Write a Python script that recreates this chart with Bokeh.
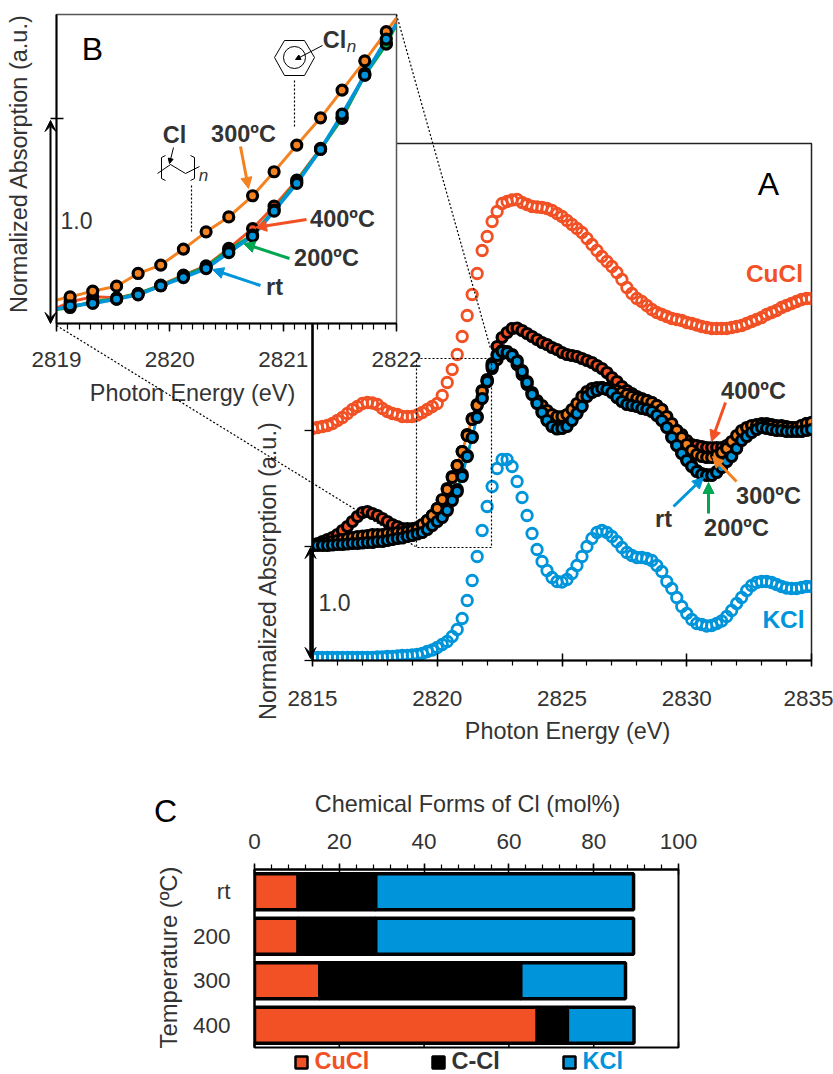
import numpy as np
from bokeh.plotting import figure
from bokeh.models import (Range1d, FactorRange, LinearAxis, CategoricalAxis, FixedTicker, Arrow,
                          NormalHead, VeeHead, ColumnDataSource)
from bokeh.core.properties import value
from bokeh.embed import file_html
from bokeh.resources import INLINE

# ---------------- panel A: heights above baseline (112 units = 1.0 normalized absorption)
cucl = [230,231,232,233,235,238,241,245,249,252,255,256,255.5,254,250,247,245,244,242,242,242,243.5,246,249,252,255,263,276,289,304,322,343,364,385,408,422,437,447,455,457,458.5,459,456,454,452,451.5,451,450,448,445,442,438,434,430,426,420,414,408,402,397,392,386,379,371,365,360,357,353,349,346,344,342,340,339,338,336,335,333.5,332,331,330,330,330,330,331,332,333,335,337,339,341,344,346,348,351,353,355,357,359,360,360]
kcl = [1,1,1,1,1,1,1,1,1,1,1,1,1,1.5,1.5,2,2,2.5,3,3,3.5,4,5,7,8.5,11,14,17,22,29,40,58,78,102,128,152,172,190,199,199,192,177,161,143,125,109,97,88,81,77,76.5,79,85,93,102,112,120,126,128,126,122,117,111,106,103,101,101,100,98,93,87,77,70,61,52,45,39,35,34,32.5,33,35,37.5,42,48,55,61,68,73,76,77,77,76,74,72,70.5,70,70,71,72,72]
a400 = [114,115,117,119,121,124,128,132,137,142,146,147,145,143,140,137,134,132,130,130,130,131,133,138,143,150,158,170,182,193,207,224,240,254,268,279,295,312,321,326,330,330.5,328,325,322,319,316,314,311,309,306,304,303,302,300,298,296,293,290,286,281,277,272,268,265,262,260,258,256,253,249,241,233,228,224,218,214,213,212,211,211,211,211,213,216,220,225,229,232,234,235,235,234,233,233,232,231,231,233,235,236]
a300 = [113,114,115,116,117,118,119,120,121,122,122.5,123,124,124,124,125,125,126,126,127,128,130,134,138,143,150,159,169,181,193,207,223,239,253,267,277,290,299,305,306,302,294,284,274,266,258,253,248,244,242,242,244,249,255,262,267,270,271,271,270,269,268,266,264,262,260,259,258,256,253,249,242,235,228,221,214,208,204,202,201,201,203,206,210,217,223,228,231,233,233.5,234,233,233,232,232,231,231,231,233,235,236]
a200 = [114,114,114,114,114.5,115,115,115.5,116,116,116.5,117,117,118,118,119,120,121,121.5,123,124,125.5,127,130,134,138,143,150,160,169,184,203,222,242,261,278,293,304,308,307,304,298,288,277,265,256,247,239,233,230.5,231,233,239,246,253,263,267,269,271,270,267,262,258,255,254,253,251,250,248,244,239,232,222,214,206,199,193,188,185,184,184,187,192,198,203,211,219,223,227,230,232,231,230,229,229,228,228,228,228,229,230]
art = [113,113,113,113,113.5,114,114,114.5,115,115,115.5,116,116,117,117,118,119,120,120.5,122,123,124.5,126,129,133,137,141,148,158,167,182,202,221,241,260,277,292,303,307,306,303,297,287,276,264,255,246,238,232,229.5,230,232,238,245,252,262,266,268,270,269,266,261,257,254,253,252,250,249,247,243,238,231,221,213,205,198,192,187,184,183,183,186,191,197,202,210,218,222,226,229,231,230,229,228,228,227,227,227,227,228,229]
lens = [len(s) for s in (cucl, kcl, a400, a300, a200, art)]
assert set(lens) == {101}, str(lens)
energy_a = [2815 + 0.2 * i for i in range(101)]

# ---------------- panel B: normalized absorption, inset
energy_b = [2819.12,2819.32,2819.53,2819.72,2819.92,2820.12,2820.32,2820.52,2820.73,2820.92,2821.12,2821.33,2821.52,2821.72,2821.91]
b300 = [.130,.158,.182,.244,.285,.363,.447,.520,.623,.740,.870,1.003,1.138,1.281,1.423]
b400 = [.106,.130,.125,.146,.187,.236,.281,.366,.463,.572,.699,.854,1.000,1.220,1.366]
b200 = [.078,.106,.119,.146,.184,.231,.276,.358,.431,.553,.691,.850,1.005,1.211,1.363]
brt = [.086,.098,.119,.140,.184,.224,.268,.346,.426,.548,.683,.849,1.021,1.211,1.387]
line_x = [2819.0] + energy_b + [2822.0]
b300_line = [.115] + b300 + [1.49]
b400_line = [.075] + b400 + [1.47]
b200_line = [.070] + b200 + [1.46]
brt_line = [.070] + brt + [1.46]

# ---------------- panel C
temps = ["rt", "200", "300", "400"]
c_cucl = [10.3, 10.3, 15.4, 66.7]
c_ccl = [18.3, 18.3, 47.4, 7.1]
c_kcl = [60.8, 60.8, 24.7, 15.7]
c_ticks = [0, 20, 40, 60, 80, 100]

RED, ORANGE, BLUE, GREEN = "#f15124", "#f58220", "#0095da", "#00a651"
INK = "#333333"
FONT = "Liberation Sans"
W, H = 833, 1074


def panel(left, top, fw, fh, x_range, y_range):
    p = figure(width=W, height=H, min_border_left=left, min_border_top=top,
               min_border_right=W - left - fw, min_border_bottom=H - top - fh,
               x_range=x_range, y_range=y_range, x_axis_type=None, y_axis_type=None,
               output_backend="svg", toolbar_location=None, border_fill_color=None,
               styles={"position": "absolute", "left": "0px", "top": "0px"})
    p.grid.visible = False
    return p


def style_axis(ax, size="22.5px"):
    ax.major_label_text_font = FONT
    ax.major_label_text_font_size = size
    ax.major_label_text_color = INK
    ax.axis_line_color = "black"
    ax.major_tick_line_color = "black"
    ax.minor_tick_line_color = "black"
    ax.axis_line_width = 2
    ax.major_tick_line_width = 1.5
    ax.minor_tick_line_width = 1.2


# ---------- A
pa = panel(312, 143, 499, 517, Range1d(2815, 2835), Range1d(-2, 515))
pa.background_fill_color = None
pa.outline_line_color = "#222222"
pa.outline_line_width = 1.5
xa = LinearAxis(ticker=FixedTicker(ticks=[2815, 2820, 2825, 2830, 2835],
                                   minor_ticks=list(range(2815, 2836))))
style_axis(xa)
xa.major_tick_in, xa.major_tick_out, xa.minor_tick_in, xa.minor_tick_out = 7, 6, 0, 5
xa.major_label_standoff = 24
pa.add_layout(xa, "below")
ya = LinearAxis(ticker=FixedTicker(ticks=[]))
style_axis(ya)
ya.axis_line_width = 2.5
pa.add_layout(ya, "left")
pa.scatter(energy_a, cucl, size=10.5, fill_color=None, line_color=RED, line_width=2.8)
pa.scatter(energy_a, kcl, size=10.5, fill_color=None, line_color=BLUE, line_width=2.8)
for s, c in ((a400, RED), (a200, GREEN), (a300, ORANGE), (art, BLUE)):
    pa.line(energy_a, s, line_color=c, line_width=2.5)
for s, c in ((a400, RED), (a200, GREEN), (a300, ORANGE), (art, BLUE)):
    pa.scatter(energy_a, s, size=10, fill_color=c, line_color="black", line_width=3.2)

# ---------- B
pb = panel(56, 14, 340, 309, Range1d(2819, 2822), Range1d(0, 1.507))
pb.background_fill_color = "white"
pb.outline_line_color = "#555555"
pb.outline_line_width = 1.5
xb = LinearAxis(ticker=FixedTicker(ticks=[2819, 2820, 2821, 2822],
                                   minor_ticks=[2819 + i / 10 for i in range(31)]))
style_axis(xb)
xb.major_tick_in, xb.major_tick_out, xb.minor_tick_in, xb.minor_tick_out = 0, 8, 0, 6
xb.major_label_standoff = 20
pb.add_layout(xb, "below")
yb = LinearAxis(ticker=FixedTicker(ticks=[]))
style_axis(yb)
pb.add_layout(yb, "left")
for s, c, w in ((b400_line, RED, 3), (b200_line, GREEN, 3.5), (b300_line, ORANGE, 3), (brt_line, BLUE, 3.5)):
    pb.line(line_x, s, line_color=c, line_width=w)
for s, c in ((b400, RED), (b200, GREEN), (b300, ORANGE), (brt, BLUE)):
    pb.scatter(energy_b, s, size=10, fill_color=c, line_color="black", line_width=3.2)

# ---------- C
pc = panel(254, 869, 424, 178, Range1d(0, 100), FactorRange(factors=temps[::-1]))
pc.background_fill_color = None
pc.outline_line_color = "black"
pc.outline_line_width = 2
src = ColumnDataSource(dict(t=temps, a=c_cucl, b=c_ccl, c=c_kcl))
pc.hbar_stack(["a", "b", "c"], y="t", source=src, height=0.81, fill_color=[RED, "black", BLUE],
              line_color="black", line_width=3.5)
xc = LinearAxis(ticker=FixedTicker(ticks=c_ticks, minor_ticks=list(range(0, 101, 4))))
style_axis(xc)
xc.major_tick_in, xc.major_tick_out, xc.minor_tick_in, xc.minor_tick_out = 5, 6, 0, 5
xc.major_label_standoff = 15
pc.add_layout(xc, "above")
yc = CategoricalAxis()
style_axis(yc)
yc.major_tick_line_color = None
yc.major_label_standoff = 18
pc.add_layout(yc, "left")

# ---------- overlay of labels and annotation marks, in page pixels
ov = panel(0, 0, W, H, Range1d(0, W), Range1d(H, 0))
ov.background_fill_color = None
ov.outline_line_color = None


def label(x, y, t, size=22.5, color=INK, bold=False, italic=False, angle=0, align="center"):
    style = "bold" if bold else ("italic" if italic else "normal")
    ov.text([x], [y], text=[t], text_font=value(FONT), text_font_size=f"{size}px", text_color=color,
            text_font_style=style, angle=angle, text_align=align, text_baseline="middle")


def arrow(x0, y0, x1, y1, color, w=3, head=11):
    ov.add_layout(Arrow(end=NormalHead(size=head, fill_color=color, line_color=color),
                        x_start=x0, y_start=y0, x_end=x1, y_end=y1, line_color=color, line_width=w))


def dbl(x, y0, y1, w=2):
    ov.add_layout(Arrow(start=VeeHead(size=11, fill_color="black", line_color="black"),
                        end=VeeHead(size=11, fill_color="black", line_color="black"),
                        x_start=x, y_start=y0, x_end=x, y_end=y1, line_color="black", line_width=w))


def dotted(xs, ys):
    ov.line(xs, ys, line_color="black", line_width=1.2, line_dash="2 2")


# titles
label(567, 730, "Photon Energy (eV)", 23.4)
label(192, 392, "Photon Energy (eV)", 23.4)
label(267, 570, "Normalized Absorption (a.u.)", 23.5, angle=np.pi / 2)
label(18, 163, "Normalized Absorption (a.u.)", 23.5, angle=np.pi / 2)
label(467, 803, "Chemical Forms of Cl (mol%)", 23.4)
label(168, 957, "Temperature (ºC)", 23.8, angle=np.pi / 2)
label(768, 183, "A", 32, "black")
label(92, 48, "B", 32, "black")
label(165, 810, "C", 32, "black")
label(334, 602, "1.0", 23)
label(76, 220, "1.0", 23)

# panel A annotations
label(774, 273, "CuCl", 24.5, RED, True)
label(783, 619, "KCl", 24.5, BLUE, True)
label(753, 390, "400ºC", 23.5, INK, True)
label(768, 495, "300ºC", 23.5, INK, True)
label(736, 527, "200ºC", 23.5, INK, True)
label(663, 518, "rt", 23.5, INK, True)
arrow(725, 402, 711, 441, RED)
arrow(736, 481, 712, 456, ORANGE)
arrow(708, 513, 708, 482, GREEN)
arrow(673, 506, 703, 477, BLUE)
dbl(310, 547, 658, 2.5)
ov.segment([304, 304, 304], [430, 546, 660], [312, 312, 312], [430, 546, 660], line_color="black", line_width=1.3)
dotted([416, 491, 491, 416, 416], [358, 358, 547, 547, 358])
dotted([396, 490], [14, 348])
dotted([56, 415], [325, 546])

# panel B annotations
label(243, 133, "300ºC", 23.5, INK, True)
label(342, 218, "400ºC", 23.5, INK, True)
label(326, 257, "200ºC", 23.5, INK, True)
label(274, 286, "rt", 23.5, INK, True)
arrow(240, 146, 248, 188, ORANGE)
arrow(306, 219, 255, 227, RED)
arrow(289, 258, 243, 243, GREEN)
arrow(260, 285, 212, 269, BLUE)
dbl(50, 120, 323)
ov.line([50, 63], [118, 118], line_color="black", line_width=1.3)
label(174, 134, "Cl", 23.5, INK, True)
arrow(173, 147, 169, 163, "black", 1, 5)
ov.line([157, 170, 185, 199], [173, 164, 173, 166], line_color="black", line_width=1)
ov.line([165, 161, 161, 165], [155, 157, 178, 180], line_color="black", line_width=1)
ov.line([190, 194, 194, 190], [155, 157, 178, 180], line_color="black", line_width=1)
label(203, 175, "n", 17, INK, italic=True)
dotted([191, 191], [185, 232])
ov.line([274, 284, 304, 314, 304, 284, 274], [57, 40, 40, 57, 75, 75, 57], line_color="black", line_width=1)
ov.circle([294], [57], radius=11, fill_color=None, line_color="black", line_width=1)
label(334, 39, "Cl", 23.5, INK, True)
label(351, 46, "n", 17, INK, italic=True)
arrow(322, 45, 295, 59, "black", 1, 5)
dotted([294, 294], [80, 127])

# panel C bottom ticks (from the same 0-100 values) and legend
ct = [254 + 4.24 * t for t in c_ticks]
ov.segment(ct, [1047] * 6, ct, [1042] * 6, line_color="black", line_width=1.5)
ov.rect([301, 438, 569], [1062, 1062, 1062], width=12, height=12, fill_color=[RED, "black", BLUE],
        line_color="black", line_width=2.5)
label(314, 1060, "CuCl", 23.5, RED, True, align="left")
label(451, 1060, "C-Cl", 23.5, INK, True, align="left")
label(582, 1060, "KCl", 23.5, BLUE, True, align="left")

open("out.html", "w").write(file_html([pa, pb, pc, ov], INLINE))
